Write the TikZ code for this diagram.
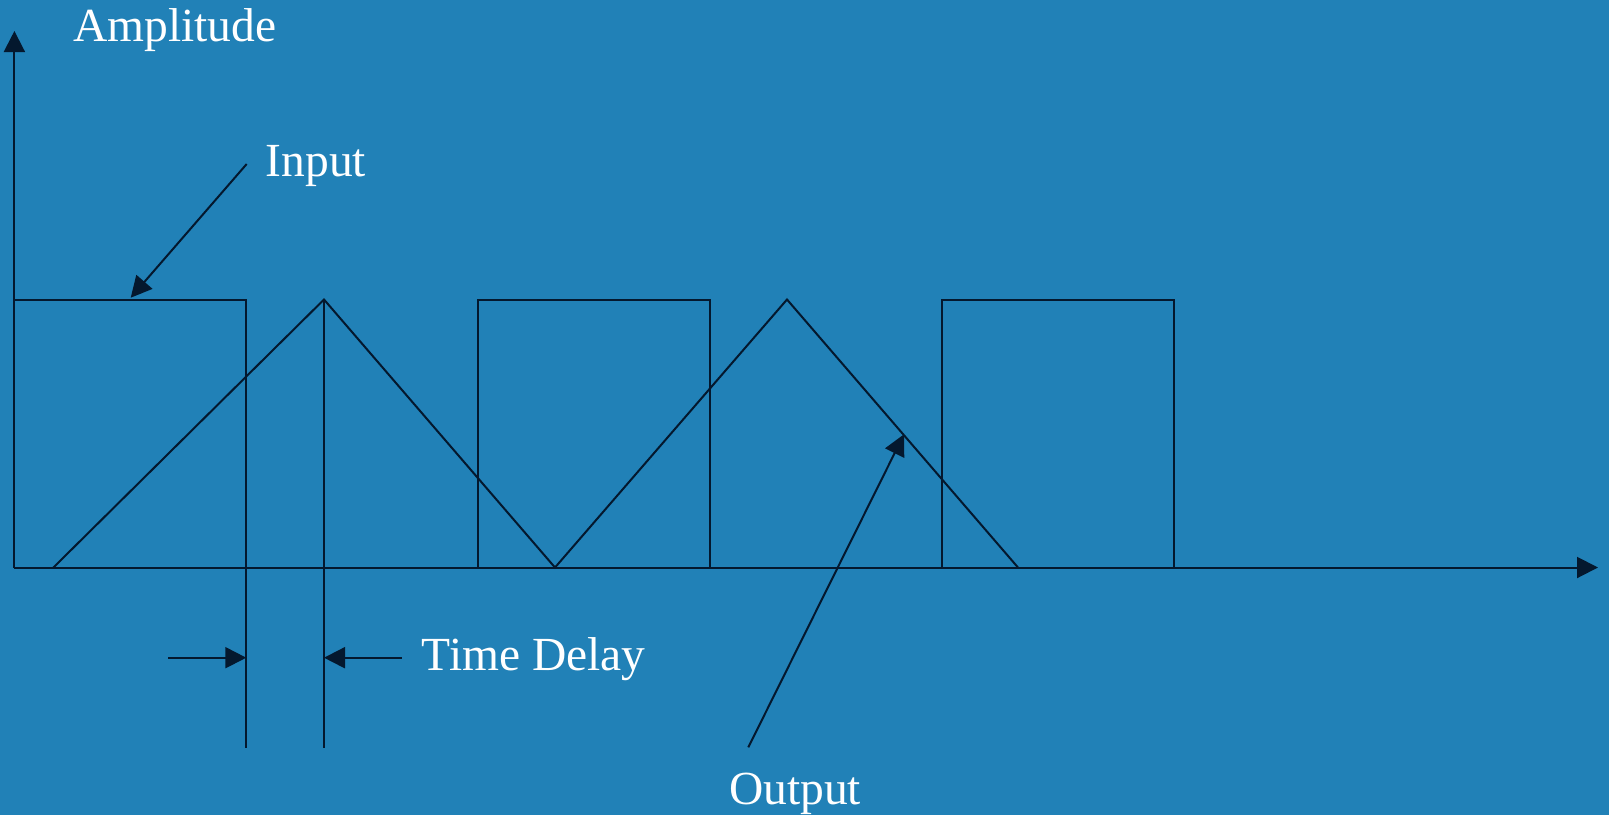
\documentclass[tikz,border=0pt]{standalone}
\usepackage{fontspec}
\setmainfont{Liberation Serif}
\usetikzlibrary{arrows.meta}
\definecolor{bg}{RGB}{33,129,183}
\definecolor{ink}{RGB}{4,24,46}
\begin{document}
\begin{tikzpicture}[x=1pt,y=-1pt,
  wire/.style={draw=ink,line width=2pt},
  pointer/.style={wire,-{Triangle[length=21pt,width=21pt]}},
  caption/.style={text=white,font=\fontsize{47.5}{50}\selectfont,inner sep=0pt,anchor=base west}]
% canvas
\fill[bg] (0,0) rectangle (1609,815);
\useasboundingbox (0,0) rectangle (1609,815);

% axes
\coordinate (O) at (14.4,567.5);
\coordinate (ytip) at (14.4,31);
\coordinate (xtip) at (1598,567.5);
\draw[pointer] (O) -- (ytip);
\draw[pointer] (O) -- (xtip);

% square-wave input pulses
\draw[wire] (14.4,567.5) -- (14.4,299.5) -- (246.3,299.5) -- (246.3,567.5);
\draw[wire] (478.2,567.5) -- (478.2,299.5) -- (710.1,299.5) -- (710.1,567.5);
\draw[wire] (942,567.5) -- (942,299.5) -- (1174,299.5) -- (1174,567.5);

% triangular output wave
\coordinate (t0) at (53.4,567.5);
\coordinate (p1) at (324,299.5);
\coordinate (t1) at (555,567.5);
\coordinate (p2) at (787,299.5);
\coordinate (t2) at (1018,567.5);
\draw[wire] (t0) -- (p1) -- (t1) -- (p2) -- (t2);

% delay markers
\coordinate (d1) at (246.3,747.5);
\coordinate (d2) at (324,747.5);
\draw[wire] (246.3,567.5) -- (d1);
\draw[wire] (p1) -- (d2);
\coordinate (la) at (168.3,657.7);
\coordinate (lb) at (246.3,657.7);
\coordinate (ra) at (401.7,657.7);
\coordinate (rb) at (324,657.7);
\draw[pointer] (la) -- (lb);
\draw[pointer] (ra) -- (rb);

% labels
\node[caption] (amp) at (73,41.7) {Amplitude};
\node[caption] (inp) at (265.7,176) {Input};
\node[caption] (delay) at (421.5,670.7) {Time Delay};
\node[caption] (outp) at (729,804) {Output};

% label pointers
\coordinate (inA) at (246.7,164);
\coordinate (inB) at (130.7,297.7);
\draw[pointer] (inA) -- (inB);
\coordinate (outA) at (748.3,747.3);
\coordinate (outB) at (904,434.3);
\draw[pointer] (outA) -- (outB);
\end{tikzpicture}
\end{document}
